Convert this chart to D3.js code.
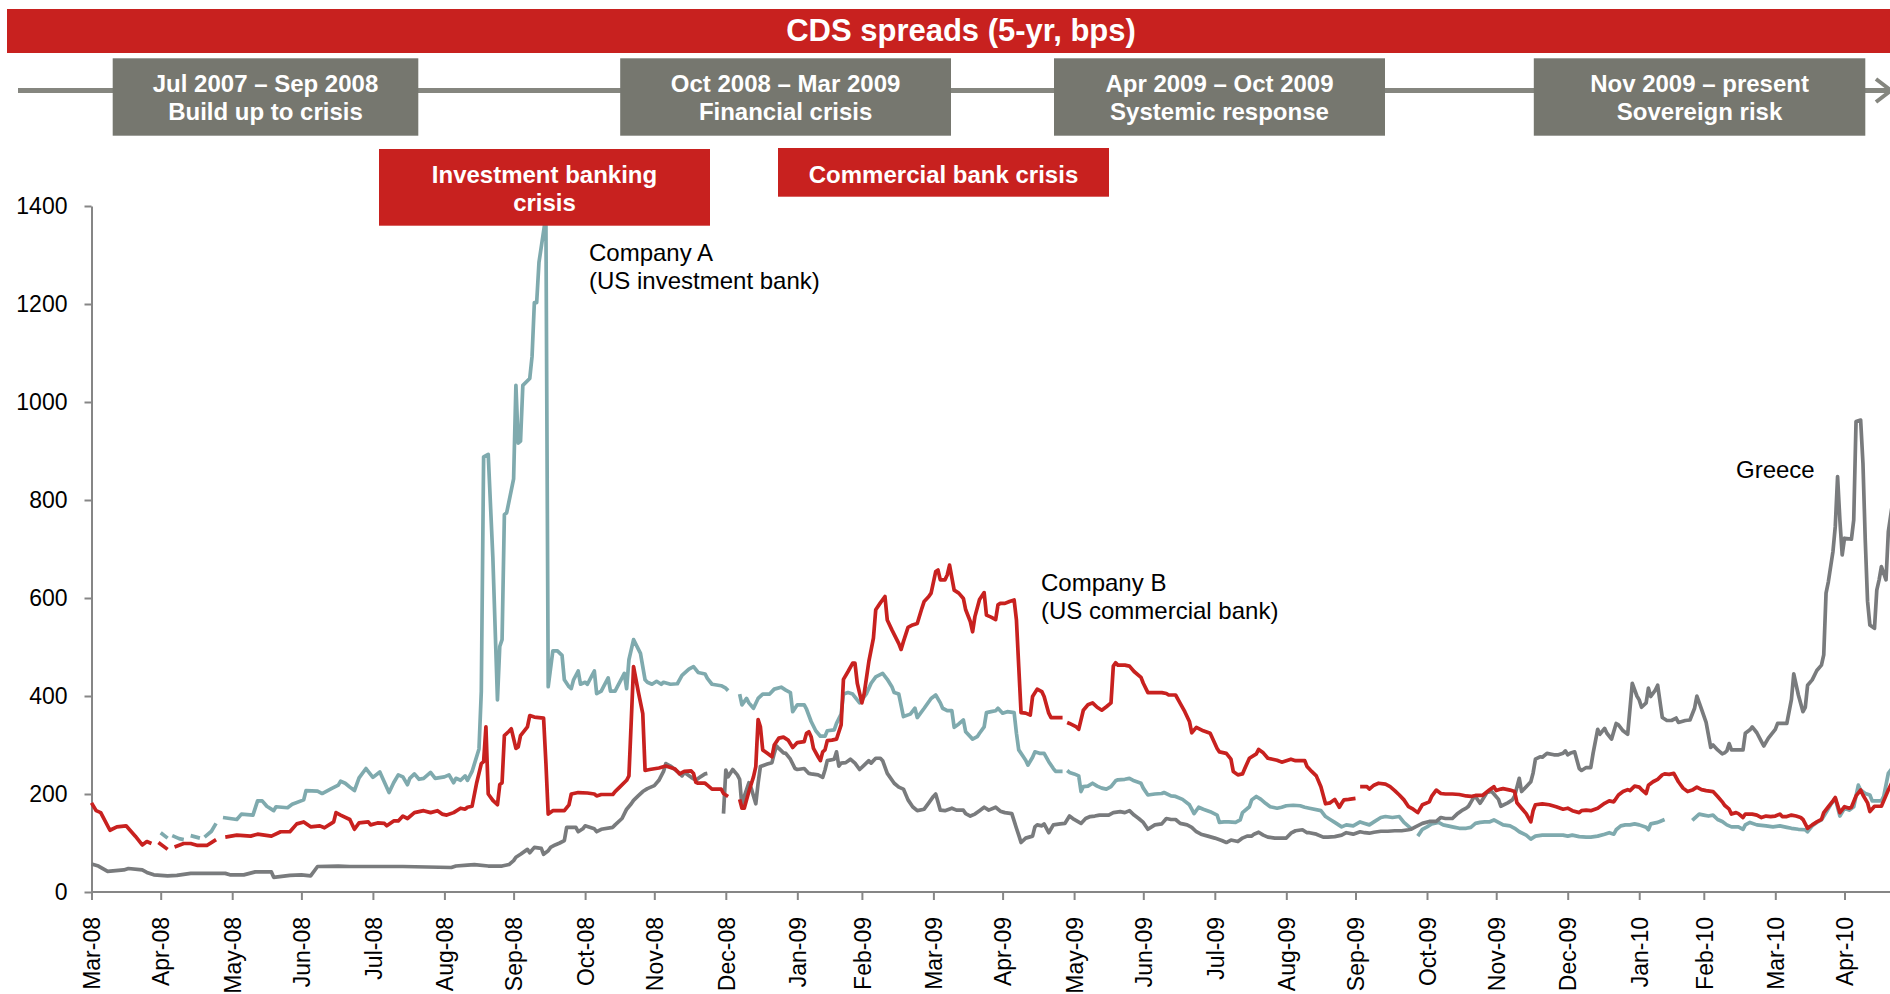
<!DOCTYPE html>
<html>
<head>
<meta charset="utf-8">
<script src="https://cdn.jsdelivr.net/npm/d3@7"></script>
<style>
  html, body { margin: 0; padding: 0; background: #ffffff; }
  svg { display: block; font-family: "Liberation Sans", Arial, Helvetica, sans-serif; }
</style>
</head>
<body>
<svg id="chart" width="1890" height="994"></svg>
<script>
// ---------- data ----------
const chartTitle = "CDS spreads (5-yr, bps)";
const yTickValues = [0, 200, 400, 600, 800, 1000, 1200, 1400];
const monthLabels = ["Mar-08","Apr-08","May-08","Jun-08","Jul-08","Aug-08","Sep-08","Oct-08","Nov-08","Dec-08",
  "Jan-09","Feb-09","Mar-09","Apr-09","May-09","Jun-09","Jul-09","Aug-09","Sep-09","Oct-09","Nov-09","Dec-09",
  "Jan-10","Feb-10","Mar-10","Apr-10"];
const phaseDates = ["Jul 2007 – Sep 2008", "Oct 2008 – Mar 2009", "Apr 2009 – Oct 2009", "Nov 2009 – present"];
const phaseNames = ["Build up to crisis", "Financial crisis", "Systemic response", "Sovereign risk"];
const crisisLabels = [["Investment banking", "crisis"], ["Commercial bank crisis"]];
const seriesLabels = [["Company A", "(US investment bank)"], ["Company B", "(US commercial bank)"], ["Greece"]];

// Company A: US investment bank, 5-yr CDS (bps); null marks missing quotes
const companyA = [
["2008-04-30",121],["2008-05-03",110],["2008-05-04",null],["2008-05-05",115],["2008-05-08",109],["2008-05-10",107],
["2008-05-11",null],["2008-05-13",115],["2008-05-17",110],["2008-05-18",null],["2008-05-19",112],["2008-05-22",124],
["2008-05-24",140],["2008-05-25",null],["2008-05-27",152],["2008-06-02",148],["2008-06-04",159],["2008-06-09",157],
["2008-06-11",186],["2008-06-13",186],["2008-06-15",175],["2008-06-18",166],["2008-06-19",174],["2008-06-24",172],
["2008-06-26",179],["2008-07-01",188],["2008-07-02",207],["2008-07-07",206],["2008-07-09",201],["2008-07-13",211],
["2008-07-16",218],["2008-07-17",226],["2008-07-19",222],["2008-07-21",214],["2008-07-23",207],["2008-07-25",233],
["2008-07-28",252],["2008-07-31",234],["2008-08-03",245],["2008-08-07",203],["2008-08-09",223],["2008-08-11",239],
["2008-08-13",235],["2008-08-15",219],["2008-08-16",232],["2008-08-18",241],["2008-08-20",230],["2008-08-22",232],
["2008-08-25",244],["2008-08-27",232],["2008-08-31",235],["2008-09-02",239],["2008-09-04",223],["2008-09-05",232],
["2008-09-07",228],["2008-09-09",237],["2008-09-10",228],["2008-09-12",246],["2008-09-15",292],["2008-09-16",410],
["2008-09-17",888],["2008-09-19",893],["2008-09-21",683],["2008-09-23",392],["2008-09-24",501],["2008-09-25",515],
["2008-09-26",770],["2008-09-27",774],["2008-09-30",843],["2008-10-01",1034],["2008-10-02",916],["2008-10-03",920],
["2008-10-04",1034],["2008-10-07",1048],["2008-10-08",1093],["2008-10-09",1203],["2008-10-10",1203],["2008-10-11",1285],
["2008-10-14",1380],["2008-10-15",419],["2008-10-17",492],["2008-10-19",492],["2008-10-21",483],["2008-10-22",433],
["2008-10-24",419],["2008-10-25",415],["2008-10-26",433],["2008-10-28",451],["2008-10-29",424],["2008-10-31",428],
["2008-11-01",424],["2008-11-03",442],["2008-11-04",451],["2008-11-05",405],["2008-11-07",410],["2008-11-08",419],
["2008-11-10",437],["2008-11-11",410],["2008-11-13",410],["2008-11-14",419],["2008-11-16",437],["2008-11-17",446],
["2008-11-18",415],["2008-11-19",474],["2008-11-21",515],["2008-11-24",487],["2008-11-26",433],["2008-11-27",428],
["2008-11-29",424],["2008-12-01",430],["2008-12-03",424],["2008-12-04",428],["2008-12-07",424],["2008-12-10",425],
["2008-12-12",442],["2008-12-15",455],["2008-12-17",460],["2008-12-19",448],["2008-12-22",445],["2008-12-23",436],
["2008-12-25",424],["2008-12-29",421],["2008-12-31",416],["2009-01-01",411],["2009-01-03",null],["2009-01-06",404],
["2009-01-07",382],["2009-01-09",395],["2009-01-10",386],["2009-01-12",375],["2009-01-14",395],["2009-01-16",404],
["2009-01-19",404],["2009-01-21",414],["2009-01-24",418],["2009-01-26",412],["2009-01-28",407],["2009-01-29",368],
["2009-01-31",382],["2009-02-03",382],["2009-02-04",373],["2009-02-06",348],["2009-02-08",329],["2009-02-10",318],
["2009-02-12",318],["2009-02-13",329],["2009-02-16",331],["2009-02-17",344],["2009-02-19",363],["2009-02-20",404],
["2009-02-22",407],["2009-02-24",404],["2009-02-27",386],["2009-03-02",405],["2009-03-04",426],["2009-03-06",439],
["2009-03-09",446],["2009-03-11",434],["2009-03-13",419],["2009-03-14",407],["2009-03-16",404],["2009-03-18",358],
["2009-03-21",363],["2009-03-23",375],["2009-03-24",356],["2009-03-27",375],["2009-03-30",395],["2009-04-01",402],
["2009-04-03",386],["2009-04-04",375],["2009-04-06",370],["2009-04-08",370],["2009-04-09",336],["2009-04-11",343],
["2009-04-13",351],["2009-04-14",327],["2009-04-17",312],["2009-04-19",317],["2009-04-20",324],["2009-04-22",337],
["2009-04-23",366],["2009-04-25",368],["2009-04-27",370],["2009-04-28",375],["2009-04-30",365],["2009-05-02",368],
["2009-05-05",366],["2009-05-06",324],["2009-05-07",290],["2009-05-09",276],["2009-05-10",269],["2009-05-11",259],
["2009-05-13",275],["2009-05-14",286],["2009-05-16",283],["2009-05-18",283],["2009-05-20",266],["2009-05-22",252],
["2009-05-23",246],["2009-05-26",246],["2009-05-27",null],["2009-05-28",248],["2009-05-29",244],["2009-05-31",241],
["2009-06-02",237],["2009-06-03",205],["2009-06-04",215],["2009-06-06",216],["2009-06-08",222],["2009-06-10",216],
["2009-06-12",212],["2009-06-14",210],["2009-06-16",215],["2009-06-18",227],["2009-06-19",229],["2009-06-22",230],
["2009-06-24",232],["2009-06-26",227],["2009-06-29",222],["2009-06-30",212],["2009-07-02",198],["2009-07-05",200],
["2009-07-08",201],["2009-07-09",203],["2009-07-12",196],["2009-07-14",195],["2009-07-17",189],["2009-07-20",178],
["2009-07-21",169],["2009-07-22",160],["2009-07-24",173],["2009-07-26",169],["2009-07-29",164],["2009-08-01",157],
["2009-08-02",142],["2009-08-04",143],["2009-08-06",143],["2009-08-09",142],["2009-08-11",147],["2009-08-12",162],
["2009-08-15",174],["2009-08-16",188],["2009-08-18",195],["2009-08-20",189],["2009-08-22",181],["2009-08-24",174],
["2009-08-27",171],["2009-08-29",173],["2009-08-31",176],["2009-09-03",177],["2009-09-06",176],["2009-09-08",173],
["2009-09-10",171],["2009-09-15",166],["2009-09-17",154],["2009-09-19",148],["2009-09-21",142],["2009-09-24",133],
["2009-09-26",137],["2009-09-29",135],["2009-10-02",143],["2009-10-04",140],["2009-10-06",137],["2009-10-08",143],
["2009-10-11",152],["2009-10-13",154],["2009-10-16",152],["2009-10-19",154],["2009-10-21",142],["2009-10-24",130],
["2009-10-25",null],["2009-10-27",114],["2009-10-29",128],["2009-10-31",133],["2009-11-02",139],["2009-11-05",142],
["2009-11-07",137],["2009-11-09",135],["2009-11-12",132],["2009-11-14",130],["2009-11-17",130],["2009-11-19",132],
["2009-11-21",140],["2009-11-23",142],["2009-11-25",143],["2009-11-27",143],["2009-11-29",147],["2009-12-01",142],
["2009-12-03",137],["2009-12-06",135],["2009-12-08",130],["2009-12-10",123],["2009-12-13",116],["2009-12-15",108],
["2009-12-17",114],["2009-12-20",116],["2009-12-23",116],["2009-12-26",116],["2009-12-29",116],["2009-12-31",114],
["2010-01-02",116],["2010-01-05",113],["2010-01-08",112],["2010-01-10",112],["2010-01-13",114],["2010-01-16",118],
["2010-01-18",121],["2010-01-20",118],["2010-01-21",127],["2010-01-23",135],["2010-01-25",137],["2010-01-27",137],
["2010-01-29",139],["2010-01-31",137],["2010-02-03",132],["2010-02-04",127],["2010-02-05",139],["2010-02-08",142],
["2010-02-09",144],["2010-02-11",148],["2010-02-12",null],["2010-02-23",146],["2010-02-26",159],["2010-02-28",157],
["2010-03-02",155],["2010-03-04",157],["2010-03-06",148],["2010-03-08",144],["2010-03-10",137],["2010-03-12",133],
["2010-03-15",133],["2010-03-17",128],["2010-03-18",137],["2010-03-20",142],["2010-03-23",137],["2010-03-27",135],
["2010-03-30",133],["2010-04-02",135],["2010-04-05",132],["2010-04-07",130],["2010-04-10",128],["2010-04-13",127],
["2010-04-14",123],["2010-04-16",135],["2010-04-18",142],["2010-04-20",147],["2010-04-22",162],["2010-04-24",178],
["2010-04-26",191],["2010-04-28",155],["2010-04-30",171],["2010-05-02",167],["2010-05-04",174],["2010-05-06",218],
["2010-05-07",208],["2010-05-09",201],["2010-05-11",198],["2010-05-12",186],["2010-05-14",186],["2010-05-16",186],
["2010-05-17",195],["2010-05-19",242],["2010-05-21",255]
];

// Company B: US commercial bank, 5-yr CDS (bps)
const companyB = [
["2008-03-31",182],["2008-04-02",166],["2008-04-04",162],["2008-04-08",126],["2008-04-11",133],["2008-04-15",135],
["2008-04-19",114],["2008-04-22",96],["2008-04-24",103],["2008-04-26",99],["2008-04-27",null],["2008-04-29",101],
["2008-05-03",87],["2008-05-04",null],["2008-05-06",92],["2008-05-10",99],["2008-05-13",99],["2008-05-16",95],
["2008-05-20",95],["2008-05-24",107],["2008-05-26",null],["2008-05-28",112],["2008-06-02",116],["2008-06-08",114],
["2008-06-11",118],["2008-06-17",114],["2008-06-21",123],["2008-06-25",123],["2008-06-28",139],["2008-07-01",143],
["2008-07-04",133],["2008-07-08",135],["2008-07-10",131],["2008-07-13",140],["2008-07-14",143],["2008-07-15",162],
["2008-07-17",157],["2008-07-21",148],["2008-07-23",128],["2008-07-25",141],["2008-07-29",143],["2008-07-30",137],
["2008-08-02",141],["2008-08-05",140],["2008-08-06",135],["2008-08-09",145],["2008-08-11",145],["2008-08-13",155],
["2008-08-15",150],["2008-08-18",162],["2008-08-22",166],["2008-08-25",162],["2008-08-28",166],["2008-08-30",159],
["2008-09-01",157],["2008-09-04",162],["2008-09-07",171],["2008-09-09",169],["2008-09-10",173],["2008-09-12",175],
["2008-09-14",223],["2008-09-16",262],["2008-09-17",266],["2008-09-18",337],["2008-09-19",200],["2008-09-21",187],
["2008-09-23",178],["2008-09-24",219],["2008-09-25",223],["2008-09-26",319],["2008-09-28",328],["2008-09-29",333],
["2008-10-01",293],["2008-10-02",296],["2008-10-03",319],["2008-10-06",337],["2008-10-07",360],["2008-10-09",357],
["2008-10-13",355],["2008-10-14",264],["2008-10-15",159],["2008-10-17",166],["2008-10-22",166],["2008-10-24",178],
["2008-10-25",200],["2008-10-28",203],["2008-11-01",202],["2008-11-04",200],["2008-11-05",196],["2008-11-07",199],
["2008-11-12",199],["2008-11-13",205],["2008-11-15",214],["2008-11-18",228],["2008-11-19",237],["2008-11-21",460],
["2008-11-23",410],["2008-11-25",364],["2008-11-26",248],["2008-11-28",250],["2008-12-02",253],["2008-12-05",257],
["2008-12-09",251],["2008-12-11",241],["2008-12-13",246],["2008-12-16",247],["2008-12-17",242],["2008-12-18",224],
["2008-12-19",222],["2008-12-22",222],["2008-12-23",218],["2008-12-25",210],["2008-12-29",210],["2008-12-30",201],
["2009-01-01",195],["2009-01-03",null],["2009-01-06",189],["2009-01-07",171],["2009-01-08",171],["2009-01-09",188],
["2009-01-10",205],["2009-01-12",235],["2009-01-13",256],["2009-01-14",352],["2009-01-15",337],["2009-01-16",290],
["2009-01-18",283],["2009-01-20",276],["2009-01-21",300],["2009-01-23",314],["2009-01-25",316],["2009-01-27",310],
["2009-01-29",295],["2009-01-31",305],["2009-02-03",307],["2009-02-04",324],["2009-02-05",327],["2009-02-06",317],
["2009-02-07",293],["2009-02-09",276],["2009-02-10",268],["2009-02-11",286],["2009-02-12",290],["2009-02-13",309],
["2009-02-15",310],["2009-02-17",312],["2009-02-19",341],["2009-02-20",434],["2009-02-22",450],["2009-02-24",467],
["2009-02-25",467],["2009-02-26",426],["2009-02-28",386],["2009-03-01",405],["2009-03-03",470],["2009-03-05",518],
["2009-03-06",576],["2009-03-08",590],["2009-03-10",603],["2009-03-11",555],["2009-03-13",535],["2009-03-16",507],
["2009-03-17",495],["2009-03-18",511],["2009-03-20",540],["2009-03-22",545],["2009-03-24",548],["2009-03-26",579],
["2009-03-27",593],["2009-03-29",603],["2009-03-30",610],["2009-04-01",654],["2009-04-02",657],["2009-04-03",637],
["2009-04-05",637],["2009-04-06",647],["2009-04-07",667],["2009-04-09",616],["2009-04-11",610],["2009-04-13",599],
["2009-04-14",576],["2009-04-16",552],["2009-04-17",531],["2009-04-18",562],["2009-04-20",597],["2009-04-22",611],
["2009-04-23",565],["2009-04-25",561],["2009-04-27",556],["2009-04-28",586],["2009-04-29",589],["2009-05-01",589],
["2009-05-03",593],["2009-05-05",596],["2009-05-06",555],["2009-05-07",460],["2009-05-08",366],["2009-05-10",365],
["2009-05-12",361],["2009-05-13",399],["2009-05-15",414],["2009-05-17",409],["2009-05-18",399],["2009-05-20",365],
["2009-05-21",356],["2009-05-26",356],["2009-05-27",null],["2009-05-28",346],["2009-05-29",344],["2009-06-01",337],
["2009-06-02",332],["2009-06-04",371],["2009-06-06",382],["2009-06-08",386],["2009-06-10",377],["2009-06-12",371],
["2009-06-14",378],["2009-06-16",386],["2009-06-17",461],["2009-06-18",468],["2009-06-19",463],["2009-06-22",463],
["2009-06-24",461],["2009-06-26",450],["2009-06-29",438],["2009-06-30",426],["2009-07-02",407],["2009-07-05",407],
["2009-07-08",407],["2009-07-10",405],["2009-07-11",402],["2009-07-14",402],["2009-07-16",385],["2009-07-18",368],
["2009-07-20",348],["2009-07-21",325],["2009-07-23",336],["2009-07-26",329],["2009-07-29",324],["2009-08-01",293],
["2009-08-02",286],["2009-08-05",283],["2009-08-07",271],["2009-08-08",246],["2009-08-10",239],["2009-08-12",241],
["2009-08-13",252],["2009-08-15",273],["2009-08-18",282],["2009-08-19",291],["2009-08-21",284],["2009-08-23",273],
["2009-08-25",271],["2009-08-27",269],["2009-08-29",265],["2009-08-31",268],["2009-09-02",271],["2009-09-04",268],
["2009-09-08",268],["2009-09-09",256],["2009-09-11",246],["2009-09-13",237],["2009-09-15",215],["2009-09-17",180],
["2009-09-19",182],["2009-09-21",189],["2009-09-23",173],["2009-09-24",181],["2009-09-25",188],["2009-09-27",189],
["2009-09-30",191],["2009-10-01",null],["2009-10-02",215],["2009-10-05",215],["2009-10-06",210],["2009-10-08",218],
["2009-10-10",222],["2009-10-13",220],["2009-10-15",215],["2009-10-17",207],["2009-10-19",198],["2009-10-21",188],
["2009-10-23",174],["2009-10-25",169],["2009-10-27",162],["2009-10-29",178],["2009-11-01",184],["2009-11-02",195],
["2009-11-04",208],["2009-11-06",201],["2009-11-08",200],["2009-11-11",200],["2009-11-14",199],["2009-11-17",196],
["2009-11-19",195],["2009-11-21",197],["2009-11-24",197],["2009-11-27",208],["2009-11-29",215],["2009-11-30",207],
["2009-12-02",210],["2009-12-03",211],["2009-12-06",208],["2009-12-08",205],["2009-12-09",182],["2009-12-11",171],
["2009-12-13",160],["2009-12-15",143],["2009-12-16",166],["2009-12-17",178],["2009-12-20",180],["2009-12-23",178],
["2009-12-26",174],["2009-12-29",169],["2009-12-31",171],["2010-01-02",166],["2010-01-05",162],["2010-01-06",166],
["2010-01-08",167],["2010-01-10",166],["2010-01-13",171],["2010-01-16",181],["2010-01-18",186],["2010-01-20",184],
["2010-01-22",198],["2010-01-24",205],["2010-01-26",209],["2010-01-27",207],["2010-01-29",216],["2010-01-31",214],
["2010-02-01",209],["2010-02-03",201],["2010-02-04",218],["2010-02-06",225],["2010-02-08",230],["2010-02-10",239],
["2010-02-11",241],["2010-02-13",240],["2010-02-15",242],["2010-02-17",225],["2010-02-19",212],["2010-02-21",205],
["2010-02-23",208],["2010-02-25",214],["2010-02-27",209],["2010-03-01",207],["2010-03-04",205],["2010-03-06",195],
["2010-03-08",184],["2010-03-09",177],["2010-03-11",169],["2010-03-12",159],["2010-03-14",162],["2010-03-15",160],
["2010-03-17",152],["2010-03-18",159],["2010-03-21",159],["2010-03-23",157],["2010-03-25",152],["2010-03-27",155],
["2010-03-29",154],["2010-03-31",155],["2010-04-02",159],["2010-04-03",154],["2010-04-05",154],["2010-04-07",157],
["2010-04-09",155],["2010-04-11",152],["2010-04-12",148],["2010-04-14",130],["2010-04-16",137],["2010-04-18",143],
["2010-04-20",148],["2010-04-21",162],["2010-04-23",174],["2010-04-25",186],["2010-04-26",193],["2010-04-28",162],
["2010-04-30",174],["2010-05-02",171],["2010-05-03",173],["2010-05-05",196],["2010-05-07",208],["2010-05-08",198],
["2010-05-10",182],["2010-05-11",164],["2010-05-13",175],["2010-05-16",175],["2010-05-17",186],["2010-05-19",208],
["2010-05-21",228]
];

// Greece sovereign, 5-yr CDS (bps)
const greece = [
["2008-03-31",57],["2008-04-03",53],["2008-04-07",42],["2008-04-14",45],["2008-04-16",48],["2008-04-22",45],
["2008-04-24",40],["2008-04-27",35],["2008-05-03",33],["2008-05-07",34],["2008-05-13",38],["2008-05-28",38],
["2008-05-30",35],["2008-06-05",35],["2008-06-10",41],["2008-06-17",41],["2008-06-18",30],["2008-06-25",34],
["2008-06-30",35],["2008-07-04",33],["2008-07-07",52],["2008-07-16",53],["2008-07-21",52],["2008-08-13",52],
["2008-09-03",50],["2008-09-05",53],["2008-09-10",55],["2008-09-13",56],["2008-09-19",53],["2008-09-25",53],
["2008-09-28",56],["2008-09-30",64],["2008-10-01",71],["2008-10-03",77],["2008-10-06",87],["2008-10-07",80],
["2008-10-09",91],["2008-10-12",89],["2008-10-13",77],["2008-10-15",84],["2008-10-16",91],["2008-10-18",96],
["2008-10-20",100],["2008-10-22",105],["2008-10-23",132],["2008-10-27",132],["2008-10-28",123],["2008-10-30",129],
["2008-10-31",135],["2008-11-04",129],["2008-11-05",123],["2008-11-07",128],["2008-11-12",132],["2008-11-13",137],
["2008-11-16",150],["2008-11-18",169],["2008-11-20",180],["2008-11-21",187],["2008-11-23",196],["2008-11-25",205],
["2008-11-27",211],["2008-11-30",217],["2008-12-02",228],["2008-12-04",246],["2008-12-05",262],["2008-12-07",257],
["2008-12-10",246],["2008-12-12",237],["2008-12-13",244],["2008-12-14",241],["2008-12-16",234],["2008-12-18",228],
["2008-12-20",235],["2008-12-22",241],["2008-12-23",242],["2008-12-24",null],["2008-12-30",160],["2008-12-31",249],
["2009-01-01",235],["2009-01-03",250],["2009-01-05",239],["2009-01-06",230],["2009-01-07",174],["2009-01-08",195],
["2009-01-10",223],["2009-01-11",212],["2009-01-13",180],["2009-01-14",222],["2009-01-15",256],["2009-01-18",261],
["2009-01-20",264],["2009-01-21",283],["2009-01-22",298],["2009-01-23",293],["2009-01-25",284],["2009-01-26",283],
["2009-01-28",271],["2009-01-30",252],["2009-01-31",250],["2009-02-03",252],["2009-02-05",242],["2009-02-06",241],
["2009-02-09",239],["2009-02-11",234],["2009-02-12",249],["2009-02-13",268],["2009-02-16",271],["2009-02-17",286],
["2009-02-18",257],["2009-02-19",263],["2009-02-21",264],["2009-02-23",271],["2009-02-25",263],["2009-02-27",250],
["2009-03-01",259],["2009-03-03",268],["2009-03-04",263],["2009-03-06",273],["2009-03-08",273],["2009-03-09",268],
["2009-03-11",242],["2009-03-14",222],["2009-03-16",214],["2009-03-18",210],["2009-03-20",188],["2009-03-22",174],
["2009-03-24",166],["2009-03-27",169],["2009-03-29",182],["2009-03-31",195],["2009-04-01",200],["2009-04-03",167],
["2009-04-05",166],["2009-04-08",171],["2009-04-10",167],["2009-04-13",167],["2009-04-14",160],["2009-04-16",155],
["2009-04-18",159],["2009-04-20",166],["2009-04-22",173],["2009-04-24",167],["2009-04-27",173],["2009-04-29",165],
["2009-05-01",162],["2009-05-04",160],["2009-05-06",130],["2009-05-07",116],["2009-05-08",101],["2009-05-10",110],
["2009-05-13",114],["2009-05-14",133],["2009-05-15",137],["2009-05-17",135],["2009-05-18",139],["2009-05-20",121],
["2009-05-22",137],["2009-05-25",139],["2009-05-27",140],["2009-05-29",155],["2009-05-31",148],["2009-06-03",140],
["2009-06-05",150],["2009-06-07",154],["2009-06-09",155],["2009-06-11",157],["2009-06-15",157],["2009-06-17",162],
["2009-06-20",164],["2009-06-22",162],["2009-06-24",166],["2009-06-26",157],["2009-06-28",150],["2009-06-30",142],
["2009-07-02",128],["2009-07-05",137],["2009-07-08",139],["2009-07-10",150],["2009-07-12",148],["2009-07-14",148],
["2009-07-16",140],["2009-07-19",137],["2009-07-21",132],["2009-07-23",123],["2009-07-25",118],["2009-07-28",114],
["2009-07-31",110],["2009-08-03",105],["2009-08-05",101],["2009-08-07",106],["2009-08-10",103],["2009-08-12",110],
["2009-08-14",114],["2009-08-16",114],["2009-08-17",118],["2009-08-19",122],["2009-08-21",116],["2009-08-23",112],
["2009-08-26",110],["2009-08-28",110],["2009-08-31",110],["2009-09-02",120],["2009-09-04",125],["2009-09-07",127],
["2009-09-09",121],["2009-09-10",121],["2009-09-13",118],["2009-09-16",112],["2009-09-18",112],["2009-09-21",113],
["2009-09-24",116],["2009-09-26",121],["2009-09-29",118],["2009-10-02",123],["2009-10-04",121],["2009-10-06",120],
["2009-10-08",122],["2009-10-11",124],["2009-10-14",124],["2009-10-17",125],["2009-10-20",125],["2009-10-23",127],
["2009-10-24",128],["2009-10-26",133],["2009-10-29",140],["2009-11-01",144],["2009-11-04",144],["2009-11-06",152],
["2009-11-08",150],["2009-11-11",150],["2009-11-13",159],["2009-11-15",166],["2009-11-17",171],["2009-11-18",175],
["2009-11-20",191],["2009-11-21",195],["2009-11-23",181],["2009-11-24",188],["2009-11-26",203],["2009-11-28",205],
["2009-11-29",200],["2009-12-01",189],["2009-12-02",175],["2009-12-05",182],["2009-12-07",188],["2009-12-08",196],
["2009-12-10",232],["2009-12-11",205],["2009-12-13",215],["2009-12-15",225],["2009-12-16",243],["2009-12-17",271],
["2009-12-19",276],["2009-12-20",275],["2009-12-22",283],["2009-12-25",280],["2009-12-27",280],["2009-12-29",283],
["2009-12-30",288],["2009-12-31",280],["2010-01-01",283],["2010-01-03",286],["2010-01-05",252],["2010-01-06",248],
["2010-01-08",254],["2010-01-10",254],["2010-01-11",283],["2010-01-13",332],["2010-01-14",322],["2010-01-16",334],
["2010-01-17",324],["2010-01-19",312],["2010-01-21",344],["2010-01-22",341],["2010-01-24",329],["2010-01-26",322],
["2010-01-28",426],["2010-01-30",400],["2010-01-31",392],["2010-02-01",377],["2010-02-03",386],["2010-02-04",416],
["2010-02-05",399],["2010-02-07",412],["2010-02-08",422],["2010-02-10",356],["2010-02-12",350],["2010-02-14",350],
["2010-02-16",355],["2010-02-17",346],["2010-02-20",350],["2010-02-22",351],["2010-02-24",375],["2010-02-25",400],
["2010-02-27",373],["2010-03-01",346],["2010-03-03",295],["2010-03-04",300],["2010-03-06",290],["2010-03-08",282],
["2010-03-09",284],["2010-03-10",288],["2010-03-11",303],["2010-03-12",290],["2010-03-17",290],["2010-03-18",324],
["2010-03-20",331],["2010-03-21",337],["2010-03-23",325],["2010-03-25",307],["2010-03-26",298],["2010-03-28",314],
["2010-03-31",332],["2010-04-01",344],["2010-04-05",344],["2010-04-07",393],["2010-04-08",445],["2010-04-10",402],
["2010-04-12",368],["2010-04-13",377],["2010-04-14",422],["2010-04-16",433],["2010-04-18",452],["2010-04-20",463],
["2010-04-21",484],["2010-04-22",610],["2010-04-23",633],["2010-04-25",695],["2010-04-26",746],["2010-04-27",848],
["2010-04-28",759],["2010-04-29",688],["2010-04-30",722],["2010-05-03",720],["2010-05-04",759],["2010-05-05",960],
["2010-05-07",963],["2010-05-08",875],["2010-05-09",718],["2010-05-10",593],["2010-05-11",545],["2010-05-13",538],
["2010-05-14",616],["2010-05-15",637],["2010-05-16",664],["2010-05-18",637],["2010-05-19",735],["2010-05-21",800]
];

// ---------- drawing ----------
const W = 1890, H = 994;
const FONT = "'Liberation Sans', Arial, Helvetica, sans-serif";
const svg = d3.select("#chart");

const parseDay = d3.utcParse("%Y-%m-%d");
const parseMonth = d3.utcParse("%b-%y");
// month ticks sit on the last day of the labelled month
const monthEnd = s => d3.utcDay.offset(d3.utcMonth.offset(parseMonth(s), 1), -1);
const tickDates = monthLabels.map(monthEnd);

const x = d3.scaleUtc()
  .domain([tickDates[0], tickDates[tickDates.length - 1]])
  .range([91.5, 1844.5]);
const y = d3.scaleLinear().domain([0, 1400]).range([892, 206]);

const AXIS = "#868686";

// y axis
const yAxis = svg.append("g")
  .attr("transform", "translate(91.5,0)")
  .call(d3.axisLeft(y).tickValues(yTickValues).tickSize(7).tickSizeOuter(0).tickPadding(17)
        .tickFormat(d3.format("d")));
yAxis.select(".domain").attr("stroke", AXIS).attr("stroke-width", 2);
yAxis.selectAll(".tick line").attr("stroke", AXIS).attr("stroke-width", 2);
yAxis.selectAll(".tick text").attr("fill", "#000").style("font-size", "23px").style("font-family", FONT);

// x axis
const xAxis = svg.append("g")
  .attr("transform", "translate(0,892)")
  .call(d3.axisBottom(x).tickValues(tickDates).tickSize(8).tickSizeOuter(0)
        .tickFormat((d, i) => monthLabels[i]));
xAxis.select(".domain").remove();
xAxis.selectAll(".tick line").attr("stroke", AXIS).attr("stroke-width", 2);
xAxis.selectAll(".tick text")
  .attr("transform", "rotate(-90)")
  .attr("text-anchor", "end")
  .attr("x", -25).attr("y", 0).attr("dy", "0.36em")
  .attr("fill", "#000").style("font-size", "23px").style("font-family", FONT);
svg.append("line").attr("x1", 91.5).attr("x2", W).attr("y1", 892).attr("y2", 892)
  .attr("stroke", AXIS).attr("stroke-width", 2);

// series lines
const line = d3.line()
  .defined(d => d[1] !== null)
  .x(d => x(parseDay(d[0])))
  .y(d => y(d[1]));

const seriesDraw = [
  { data: companyA, color: "#7FAAAE" },
  { data: greece,   color: "#797B7D" },
  { data: companyB, color: "#C8211F" }
];
svg.append("g").selectAll("path").data(seriesDraw).join("path")
  .attr("d", s => line(s.data))
  .attr("fill", "none")
  .attr("stroke", s => s.color)
  .attr("stroke-width", 3.7)
  .attr("stroke-linejoin", "round")
  .attr("stroke-linecap", "butt");

// series labels
const labelPos = [[589, 261], [1041, 591], [1736, 478]];
seriesLabels.forEach((lines, i) => {
  const t = svg.append("text")
    .attr("x", labelPos[i][0]).attr("y", labelPos[i][1])
    .attr("fill", "#000").style("font-size", "24px").style("font-family", FONT);
  lines.forEach((s, j) => t.append("tspan").attr("x", labelPos[i][0]).attr("dy", j ? 28 : 0).text(s));
});

// title bar
const RED = "#C8211F";
svg.append("rect").attr("x", 7).attr("y", 9).attr("width", W).attr("height", 44).attr("fill", RED);
svg.append("text").attr("x", 961).attr("y", 41)
  .attr("text-anchor", "middle").attr("fill", "#fff")
  .style("font-size", "31px").style("font-weight", "bold").style("font-family", FONT)
  .text(chartTitle);

// timeline with arrow
const GREY = "#76776F";
svg.append("line").attr("x1", 18).attr("x2", 1888).attr("y1", 90.5).attr("y2", 90.5)
  .attr("stroke", "#85867F").attr("stroke-width", 5);
svg.append("polyline").attr("points", "1876,79 1891,90.5 1876,102")
  .attr("fill", "none").attr("stroke", "#85867F").attr("stroke-width", 4);

// phase boxes
const phaseBoxes = [[112.7, 305.6], [620.2, 330.8], [1054, 331], [1533.8, 331.5]];
phaseBoxes.forEach(([bx, bw], i) => {
  svg.append("rect").attr("x", bx).attr("y", 58.3).attr("width", bw).attr("height", 77.4).attr("fill", GREY);
  const t = svg.append("text").attr("text-anchor", "middle").attr("fill", "#fff")
    .style("font-size", "24px").style("font-weight", "bold").style("font-family", FONT);
  t.append("tspan").attr("x", bx + bw / 2).attr("y", 92).text(phaseDates[i]);
  t.append("tspan").attr("x", bx + bw / 2).attr("y", 119.5).text(phaseNames[i]);
});

// crisis boxes
const crisisBoxes = [[379, 149, 331, 76.7, 183], [778, 148, 331, 48.7, 183]];
crisisBoxes.forEach(([bx, by, bw, bh, base], i) => {
  svg.append("rect").attr("x", bx).attr("y", by).attr("width", bw).attr("height", bh).attr("fill", RED);
  const t = svg.append("text").attr("text-anchor", "middle").attr("fill", "#fff")
    .style("font-size", "24px").style("font-weight", "bold").style("font-family", FONT);
  crisisLabels[i].forEach((s, j) => t.append("tspan").attr("x", bx + bw / 2).attr("y", base + j * 27.5).text(s));
});
</script>
</body>
</html>
